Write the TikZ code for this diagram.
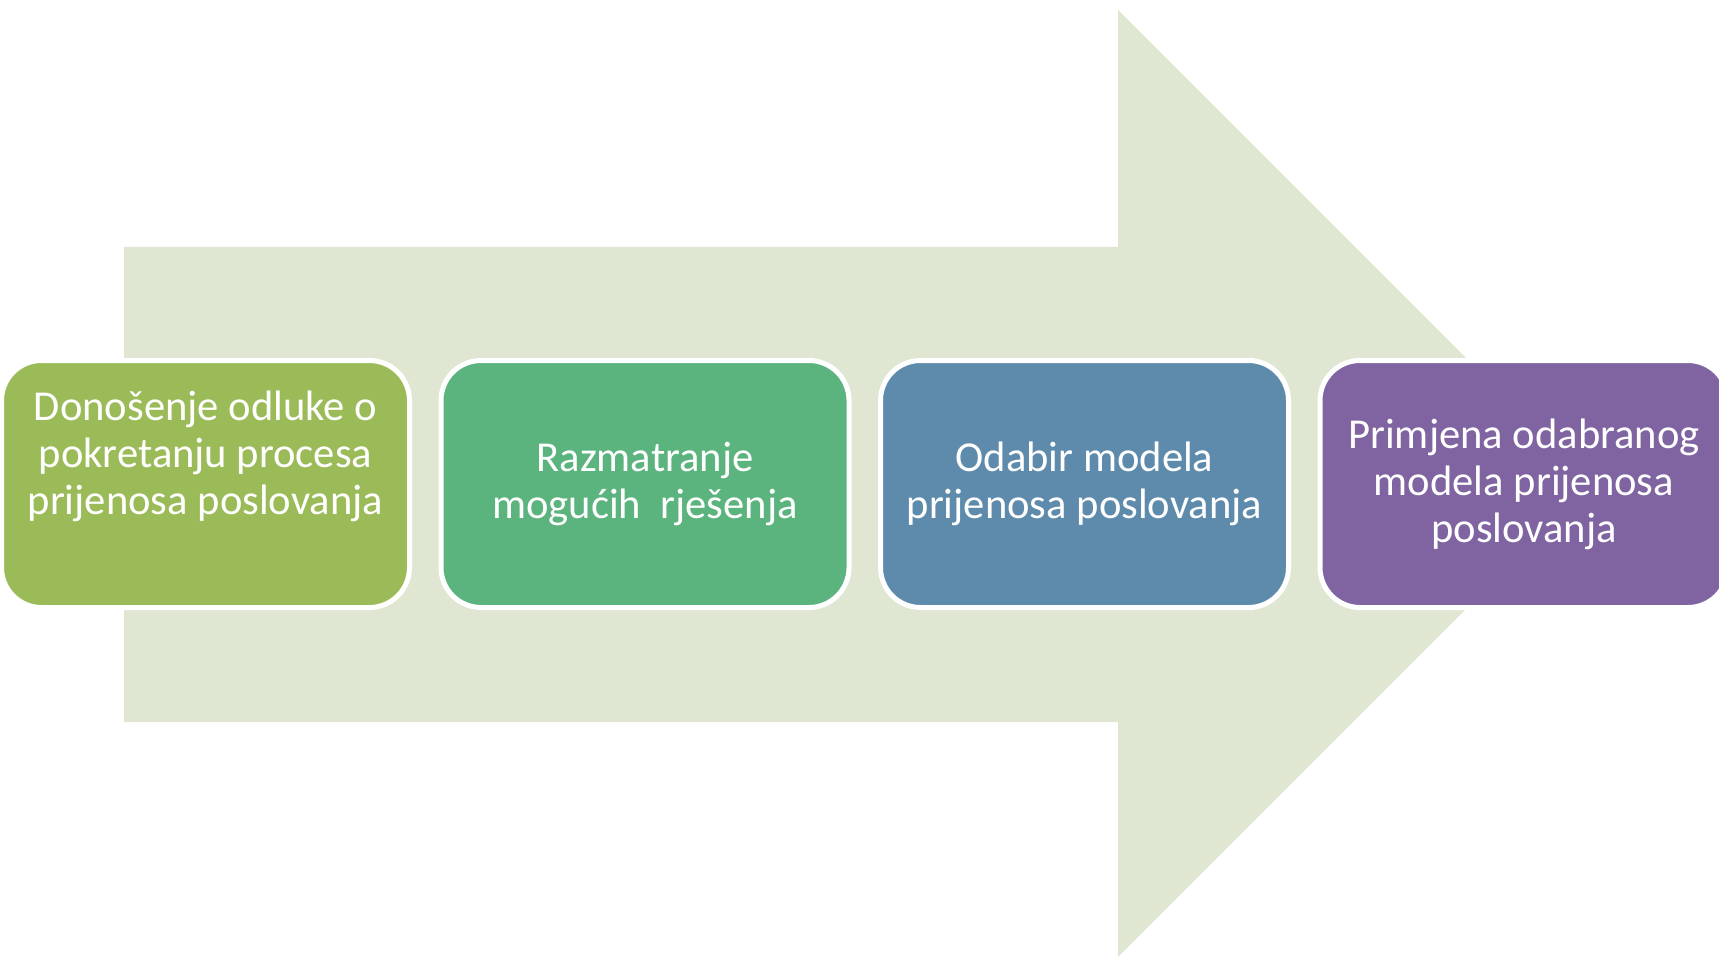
\documentclass[tikz,border=0pt]{standalone}
\usepackage{fontspec}
\setmainfont{Carlito}
\definecolor{arrowfill}{HTML}{DFE7D2}
\definecolor{stageA}{HTML}{9BBB59}
\definecolor{stageB}{HTML}{5BB37D}
\definecolor{stageC}{HTML}{5E8BAC}
\definecolor{stageD}{HTML}{8064A2}
\begin{document}
\begin{tikzpicture}[x=0.5pt, y=-0.5pt,
    stage/.style={draw=white, line width=2.5pt, rounded corners=20pt, minimum width=204pt,
      minimum height=123.5pt, inner sep=0pt, text=white, align=center,
      font=\fontsize{21.3pt}{23.5pt}\selectfont}]
    \useasboundingbox (0,0) rectangle (1719,957);
    \clip (0,0) rectangle (1719,957);
    \fill[arrowfill] (124,247) -- (1118,247) -- (1118,10) -- (1591.5,483.5)
      -- (1118,957) -- (1118,722) -- (124,722) -- cycle;

    \node[stage, fill=stageA, text depth=31pt] (s1) at (205.5,484)
      {Donošenje odluke o\\ pokretanju procesa\\ prijenosa poslovanja};
    \node[stage, fill=stageB] (s2) at (645,484) {Razmatranje\\ mogućih\ \ rješenja};
    \node[stage, fill=stageC] (s3) at (1084.5,484) {Odabir modela\\ prijenosa poslovanja};
    \node[stage, fill=stageD] (s4) at (1524,484) {Primjena odabranog\\ modela prijenosa\\ poslovanja};
  \end{tikzpicture}
\end{document}
